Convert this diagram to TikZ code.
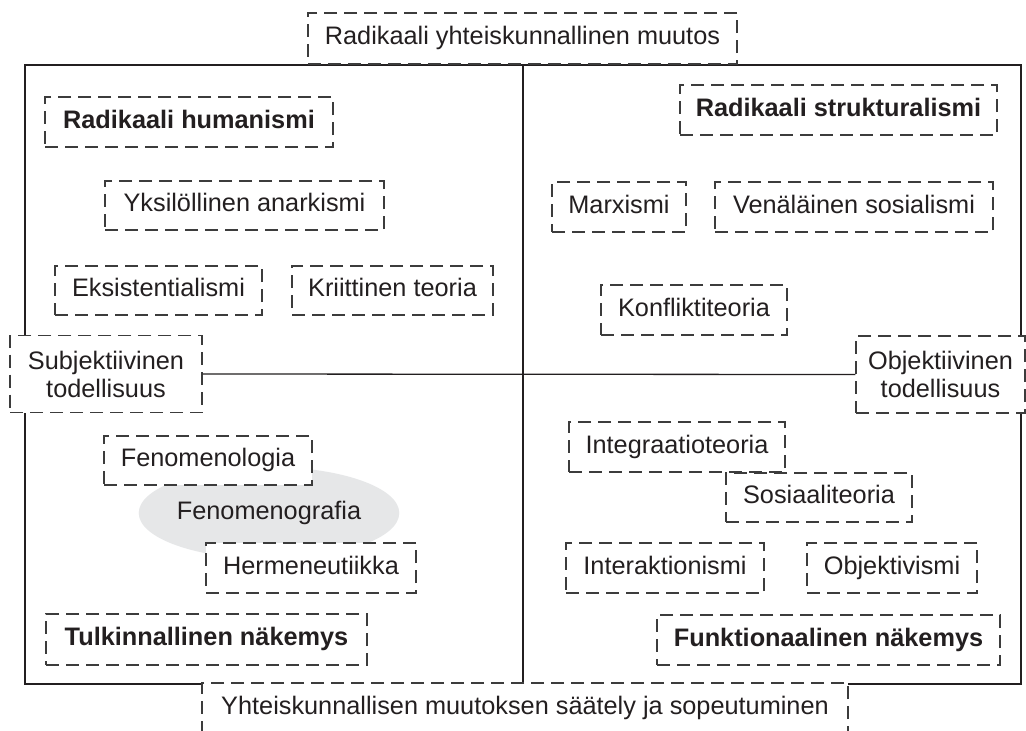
\documentclass[tikz,border=0pt]{standalone}
\usepackage{fontspec}
\setmainfont{Liberation Sans}
\usetikzlibrary{shapes.geometric}
\definecolor{ink}{HTML}{231F20}
\definecolor{dashgray}{HTML}{3C3C3C}
\definecolor{ellgray}{HTML}{E6E7E8}
\begin{document}
\begin{tikzpicture}[x=1pt,y=-1pt,
  txt/.style={text=ink, font=\fontsize{25.3}{28}\selectfont, align=center},
  dbox/.style={txt, draw=dashgray, line width=1.4pt, dash pattern=on 13pt off 7pt, fill=white, inner sep=0pt},
  sbox/.style={dbox, text height=18.1pt, text depth=5.3pt},
  bbox/.style={sbox, font=\fontsize{25.3}{28}\selectfont\bfseries},
  frame/.style={draw=ink, line width=1.3pt}]
\useasboundingbox (0,0) rectangle (1026,731);
\fill[white] (0,0) rectangle (1026,731);
% outer frame and vertical divider
\coordinate (fTL) at (25,65);
\coordinate (fBR) at (1021,684);
\coordinate (dT) at (523,65);
\coordinate (dB) at (523,684);
\draw[frame] (fTL) rectangle (fBR);
\draw[frame] (dT) -- (dB);
% ellipse
\node[txt, ellipse, fill=ellgray, minimum width=252pt, minimum height=92pt, inner sep=0pt, text height=18.1pt, text depth=5.3pt] (fgraf) at (269,513) {Fenomenografia};
% boxes
\node[sbox, minimum width=429pt, minimum height=51pt] (top) at (522.5,38.5) {Radikaali yhteiskunnallinen muutos};
\node[sbox, minimum width=646pt, minimum height=50pt] (bot) at (525,708) {Yhteiskunnallisen muutoksen säätely ja sopeutuminen};
\node[bbox, minimum width=288pt, minimum height=50pt] (radhum) at (189,122) {Radikaali humanismi};
\node[bbox, minimum width=317pt, minimum height=50pt] (radstr) at (838.5,110) {Radikaali strukturalismi};
\node[sbox, minimum width=279pt, minimum height=49pt] (yks) at (244.5,205.5) {Yksilöllinen anarkismi};
\node[sbox, minimum width=207pt, minimum height=49pt] (eks) at (158.5,290.5) {Eksistentialismi};
\node[sbox, minimum width=201pt, minimum height=49pt] (krit) at (392.5,290.5) {Kriittinen teoria};
\node[sbox, minimum width=134pt, minimum height=50pt] (marx) at (619,207) {Marxismi};
\node[sbox, minimum width=278pt, minimum height=50pt] (ven) at (854,207) {Venäläinen sosialismi};
\node[sbox, minimum width=186pt, minimum height=50pt] (konf) at (694,310) {Konfliktiteoria};
\node[dbox, minimum width=192pt, minimum height=77pt] (subj) at (106,374) {Subjektiivinen\\todellisuus};
\node[dbox, minimum width=169pt, minimum height=77pt] (obj) at (940.5,374.5) {Objektiivinen\\todellisuus};
\draw[frame] (subj.east) -- (obj.west);
\node[sbox, minimum width=208pt, minimum height=49pt] (fenol) at (208,460.5) {Fenomenologia};
\node[sbox, minimum width=210pt, minimum height=50pt] (herm) at (311,568) {Hermeneutiikka};
\node[bbox, minimum width=321pt, minimum height=51pt] (tulk) at (206.5,639.5) {Tulkinnallinen näkemys};
\node[sbox, minimum width=216pt, minimum height=50pt] (integ) at (677,447) {Integraatioteoria};
\node[sbox, minimum width=186pt, minimum height=49pt] (sos) at (819,497.5) {Sosiaaliteoria};
\node[sbox, minimum width=198pt, minimum height=50pt] (inter) at (665,568) {Interaktionismi};
\node[sbox, minimum width=170pt, minimum height=50pt] (objv) at (892,568) {Objektivismi};
\node[bbox, minimum width=343pt, minimum height=50pt] (funk) at (828.5,640) {Funktionaalinen näkemys};
\end{tikzpicture}
\end{document}
